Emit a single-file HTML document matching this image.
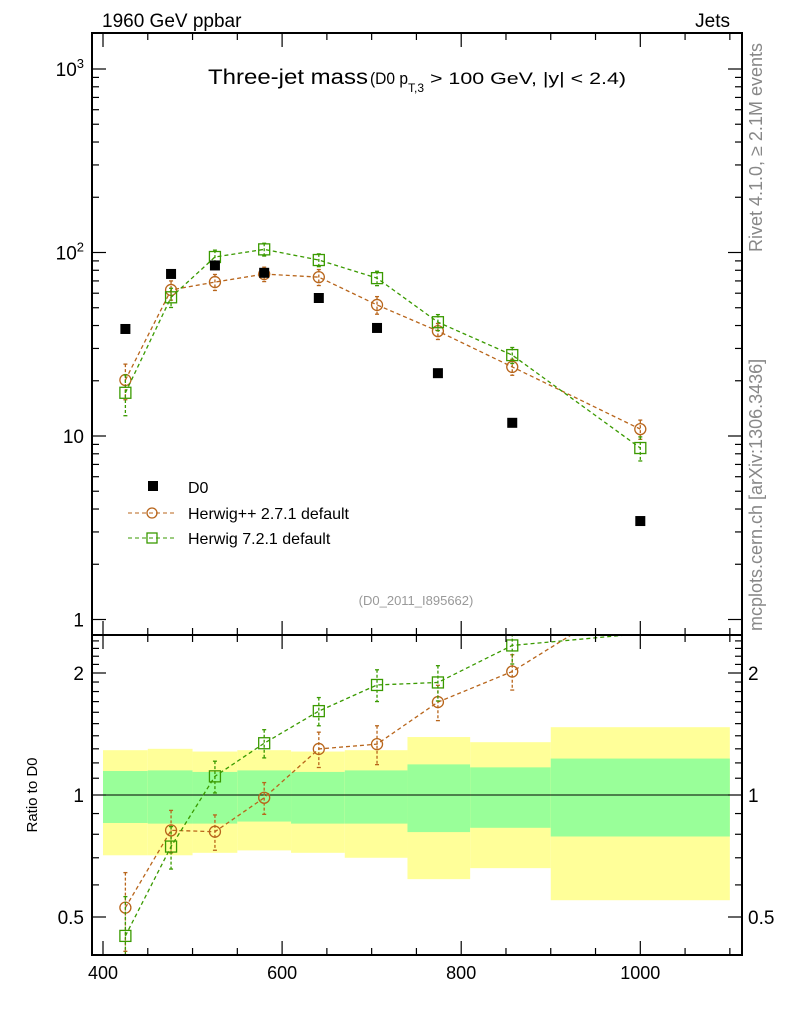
<!DOCTYPE html>
<html><head><meta charset="utf-8"><style>
body{margin:0;background:#fff;}
svg{display:block;font-family:"Liberation Sans",sans-serif;}
</style></head><body>
<svg id="c" width="786" height="1024" viewBox="0 0 786 1024" xmlns="http://www.w3.org/2000/svg">
<text x="102" y="27" font-size="19">1960 GeV ppbar</text>
<text x="730" y="27" font-size="19" text-anchor="end">Jets</text>
<text x="208" y="84" font-size="21" textLength="160" lengthAdjust="spacingAndGlyphs">Three-jet mass</text>
<text x="370" y="84" font-size="17"><tspan textLength="38" lengthAdjust="spacingAndGlyphs">(D0 p</tspan><tspan dy="8" font-size="12">T,3</tspan><tspan dy="-8" textLength="202" lengthAdjust="spacingAndGlyphs"> &gt; 100 GeV, |y| &lt; 2.4)</tspan></text>
<text transform="translate(762,252) rotate(-90)" font-size="18" fill="#888">Rivet 4.1.0, ≥ 2.1M events</text>
<text transform="translate(762,631) rotate(-90)" font-size="18" fill="#888">mcplots.cern.ch [arXiv:1306.3436]</text>
<text x="416" y="605" font-size="13" fill="#999" text-anchor="middle">(D0_2011_I895662)</text>
<text transform="translate(37,795) rotate(-90)" font-size="15" text-anchor="middle">Ratio to D0</text>
<g id="bands"></g><g id="grid"></g><g id="marks"></g><g id="axes"></g>
<g>
<rect x="148" y="481" width="10" height="10" fill="#000"/>
<text x="188" y="493" font-size="16">D0</text>
<line x1="128" y1="513" x2="175" y2="513" stroke="#b8651b" stroke-dasharray="4,3"/>
<circle cx="152" cy="513" r="5" fill="none" stroke="#b8651b" stroke-width="1.3"/>
<text x="188" y="519" font-size="16">Herwig++ 2.7.1 default</text>
<line x1="128" y1="538" x2="175" y2="538" stroke="#3a9a00" stroke-dasharray="4,3"/>
<rect x="147" y="533" width="10" height="10" fill="none" stroke="#3a9a00" stroke-width="1.3"/>
<text x="188" y="544" font-size="16">Herwig 7.2.1 default</text>
</g>
</svg>
<script>
const binEdges=[400,450,500,550,610,670,740,810,900,1100];
const binCenters=[425,476,525,580,641,706,774,857,1000];
const d0Values=[38.3,76.4,85,77.5,56.5,38.8,22.0,11.8,3.44];
const bandTotalUp=[1.29,1.30,1.28,1.29,1.28,1.29,1.39,1.35,1.47];
const bandTotalDn=[0.71,0.71,0.72,0.73,0.72,0.70,0.62,0.66,0.55];
const bandStatUp=[1.146,1.15,1.14,1.15,1.14,1.15,1.19,1.17,1.23];
const bandStatDn=[0.853,0.85,0.85,0.86,0.85,0.85,0.81,0.83,0.79];
const hppValues=[20.2,62.5,69,76.3,73.4,51.8,37.3,23.8,10.9];
const hppErr=[0.22,0.12,0.10,0.09,0.10,0.11,0.10,0.10,0.12];
const h7Values=[17.2,57,94.5,104,91,72.5,41.7,27.6,8.6];
const h7Err=[0.25,0.12,0.09,0.08,0.08,0.09,0.10,0.10,0.15];
const xTicks=[400,600,800,1000];
const yTopTicks=[1,10,100,1000];
const yTopLabels=["1","10","10²","10³"];
const yRatioTicks=[0.5,1,2];
const yRatioLabels=["0.5","1","2"];

const L=92,R=742,T=33,M=635,B=955;
const X=v=>103+(v-400)*0.8955;
const Y=v=>436-(Math.log10(v)-1)*183.5;
const YR=v=>795-Math.log2(v)*122;
const NS="http://www.w3.org/2000/svg";
function mk(parent,tag,attrs){const e=document.createElementNS(NS,tag);for(const k in attrs)e.setAttribute(k,attrs[k]);document.getElementById(parent).appendChild(e);return e;}

for(let i=0;i<binCenters.length;i++){
  const x1=X(binEdges[i]),x2=X(binEdges[i+1]);
  let e=mk('bands','rect',{x:x1,y:YR(bandTotalUp[i]),width:x2-x1,height:YR(bandTotalDn[i])-YR(bandTotalUp[i]),fill:'#ffff99'});
  
  
  e=mk('bands','rect',{x:x1,y:YR(bandStatUp[i]),width:x2-x1,height:YR(bandStatDn[i])-YR(bandStatUp[i]),fill:'#99ff99'});
  
  
}
let ref=mk('grid','line',{x1:L,x2:R,y1:YR(1),y2:YR(1),stroke:'#000','stroke-width':1});



const defs=mk('c','defs',{});
const cp1=document.createElementNS(NS,'clipPath');cp1.setAttribute('id','cTop');
const r1=document.createElementNS(NS,'rect');r1.setAttribute('x',L);r1.setAttribute('y',T);r1.setAttribute('width',R-L);r1.setAttribute('height',M-T);cp1.appendChild(r1);defs.appendChild(cp1);
const cp2=document.createElementNS(NS,'clipPath');cp2.setAttribute('id','cBot');
const r2=document.createElementNS(NS,'rect');r2.setAttribute('x',L);r2.setAttribute('y',M+1);r2.setAttribute('width',R-L);r2.setAttribute('height',B-M-1);cp2.appendChild(r2);defs.appendChild(cp2);

const gTop=mk('marks','g',{'clip-path':'url(#cTop)'});gTop.id='gTop';
const gBot=mk('marks','g',{'clip-path':'url(#cBot)'});gBot.id='gBot';

function series(g,vals,err,color,shape,yf,name,divide,hideAbove){
  const pts=vals.map((v,i)=>{const val=divide?v/d0Values[i]:v;return [X(binCenters[i]),yf(val),val];});
  let pl=mk(g,'polyline',{points:pts.map(p=>p[0]+','+p[1]).join(' '),fill:'none',stroke:color,'stroke-width':1.3,'stroke-dasharray':'4,3'});
  
  
  pts.forEach((p,i)=>{
    if(hideAbove!==undefined && p[1]<hideAbove) return;
    const yu=yf(p[2]*(1+err[i])),yd=yf(p[2]*(1-err[i]));
    let eb=mk(g,'line',{x1:p[0],x2:p[0],y1:yu,y2:yd,stroke:color,'stroke-width':1.3,'stroke-dasharray':'3,2'});
    
    
    mk(g,'line',{x1:p[0]-2,x2:p[0]+2,y1:yu,y2:yu,stroke:color,'stroke-width':1.3});
    mk(g,'line',{x1:p[0]-2,x2:p[0]+2,y1:yd,y2:yd,stroke:color,'stroke-width':1.3});
    let m;
    if(shape==='c') m=mk(g,'circle',{cx:p[0],cy:p[1],r:5.5,fill:'none',stroke:color,'stroke-width':1.3});
    else m=mk(g,'rect',{x:p[0]-5.5,y:p[1]-5.5,width:11,height:11,fill:'none',stroke:color,'stroke-width':1.3});
    
    
  });
}
series('gTop',hppValues,hppErr,'#b8651b','c',Y,'herwigpp',false);
series('gTop',h7Values,h7Err,'#3a9a00','s',Y,'herwig7',false);
d0Values.forEach((v,i)=>{
  const p=mk('gTop','rect',{x:X(binCenters[i])-5,y:Y(v)-5,width:10,height:10,fill:'#000'});
  
  
});
series('gBot',hppValues,hppErr,'#b8651b','c',YR,'herwigpp-ratio',true,M);
series('gBot',h7Values,h7Err,'#3a9a00','s',YR,'herwig7-ratio',true,M);

[[T,M,'main-plot-frame'],[M,B,'ratio-plot-frame']].forEach(f=>{
  const e=mk('axes','rect',{x:L,y:f[0],width:R-L,height:f[1]-f[0],fill:'none',stroke:'#000','stroke-width':2});
  
  
});
function tick(x1,y1,x2,y2){mk('axes','line',{x1,y1,x2,y2,stroke:'#000','stroke-width':1.2});}
for(let v=400;v<=1100;v+=50){
  const x=X(v),maj=v%200===0,len=maj?14:7;
  tick(x,B,x,B-len);tick(x,M,x,M-len);tick(x,M,x,M+len);tick(x,T,x,T+len);
}
xTicks.forEach(v=>{
  const t=mk('axes','text',{x:X(v),y:979,'font-size':18,'text-anchor':'middle'});t.textContent=v;
  
  
});
for(let d=0;d<4;d++){for(let k=1;k<10;k++){const v=Math.pow(10,d)*k;const y=Y(v);if(y<T||y>M)continue;const len=k===1?14:7;tick(L,y,L+len,y);tick(R,y,R-len,y);}}
yTopTicks.forEach((v,i)=>{
  const t=mk('axes','text',{x:84,y:Y(v)+7,'font-size':19,'text-anchor':'end'});
  if(v>=100){t.textContent='10';const s=document.createElementNS(NS,'tspan');s.setAttribute('dy','-8');s.setAttribute('font-size','13');s.textContent=v===100?'2':'3';t.appendChild(s);}
  else t.textContent=yTopLabels[i];
  
  
});
[0.4,0.5,0.6,0.7,0.8,0.9,1,1.1,1.2,1.3,1.4,1.5,1.6,1.7,1.8,1.9,2,2.1,2.2,2.3,2.4].forEach(v=>{
  const y=YR(v);if(y<M||y>B)return;const maj=(v===0.5||v===1||v===2);const len=maj?14:7;tick(L,y,L+len,y);tick(R,y,R-len,y);
});
yRatioTicks.forEach((v,i)=>{
  let t=mk('axes','text',{x:84,y:YR(v)+7,'font-size':19,'text-anchor':'end'});t.textContent=yRatioLabels[i];
  
  
  t=mk('axes','text',{x:748,y:YR(v)+7,'font-size':19});t.textContent=yRatioLabels[i];
  
  
});
</script>
</body></html>
